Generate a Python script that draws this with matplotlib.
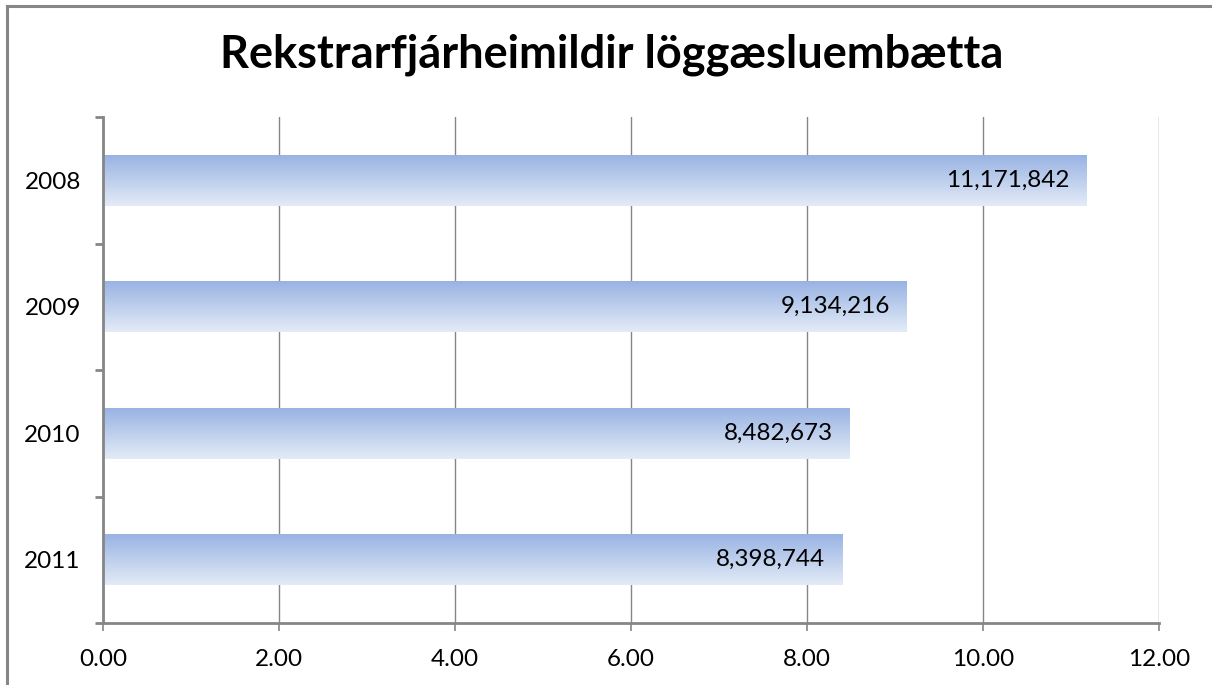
import numpy as np
import matplotlib
matplotlib.use("Agg")
import matplotlib.pyplot as plt
from matplotlib.colors import LinearSegmentedColormap
from matplotlib.lines import Line2D

years = ["2008", "2009", "2010", "2011"]
values = [11.171842, 9.134216, 8.482673, 8.398744]
labels = ["11,171,842", "9,134,216", "8,482,673", "8,398,744"]
xticks = [0, 2, 4, 6, 8, 10, 12]
title = "Rekstrarfjárheimildir löggæsluembætta"

W, H = 1212, 685
fig = plt.figure(figsize=(W / 100, H / 100), dpi=100)
fig.patch.set_facecolor("white")

# outer frame (top and left visible)
fig.add_artist(Line2D([6.5 / W, 6.5 / W], [0, 1 - 5.5 / H], transform=fig.transFigure,
                      color="#868686", lw=2.2))
fig.add_artist(Line2D([6.5 / W, 1], [1 - 5.5 / H, 1 - 5.5 / H], transform=fig.transFigure,
                      color="#868686", lw=2.2))

ax = fig.add_axes([103 / W, 1 - 623 / H, (1159 - 103) / W, (623 - 117) / H])

ypos = np.arange(len(years))
bars = ax.barh(ypos, values, height=0.40, color="none", edgecolor="none", zorder=2)

cmap = LinearSegmentedColormap.from_list("g", ["#98B3E3", "#E4EBF7"])
grad = np.linspace(0, 1, 256).reshape(-1, 1)
for b in bars:
    x0, y0 = b.get_x(), b.get_y()
    w, h = b.get_width(), b.get_height()
    im = ax.imshow(grad, cmap=cmap, aspect="auto", extent=[x0, x0 + w, y0 + h, y0],
                   origin="upper", zorder=2, interpolation="bilinear")
    im.set_clip_path(b)

for b, lab in zip(bars, labels):
    ax.annotate(lab, xy=(b.get_width(), b.get_y() + b.get_height() / 2),
                xytext=(-12, 0), textcoords="offset points", ha="right", va="center",
                fontsize=17.5, family="Lato", color="black", zorder=3)

ax.set_xlim(0, 12)
ax.set_ylim(len(years) - 0.5, -0.5)
ax.set_xticks(xticks)
ax.set_xticklabels([f"{t:.2f}" for t in xticks], fontsize=17.5, family="Lato")
ax.set_yticks(np.arange(-0.5, len(years), 1.0))
ax.set_yticklabels([])
ax.set_yticks(ypos, minor=True)
ax.set_yticklabels(years, minor=True, fontsize=17.5, family="Lato")
ax.tick_params(axis="y", which="minor", length=0, pad=16)
ax.tick_params(axis="y", which="major", length=6, width=2, color="#868686", direction="out")
ax.tick_params(axis="x", length=6, width=1.2, color="#868686", direction="out", pad=13)

ax.grid(axis="x", color="#868686", lw=1, zorder=1)
ax.set_axisbelow(True)
for s in ["top", "right"]:
    ax.spines[s].set_visible(False)
for s in ["left", "bottom"]:
    ax.spines[s].set_color("#868686")
    ax.spines[s].set_linewidth(2)
    ax.spines[s].set_zorder(4)

fig.text(612 / W, 1 - 55 / H, title, ha="center", va="center", fontsize=32.5,
         fontweight="bold", family="Lato")

fig.savefig("out.png", dpi=100)
